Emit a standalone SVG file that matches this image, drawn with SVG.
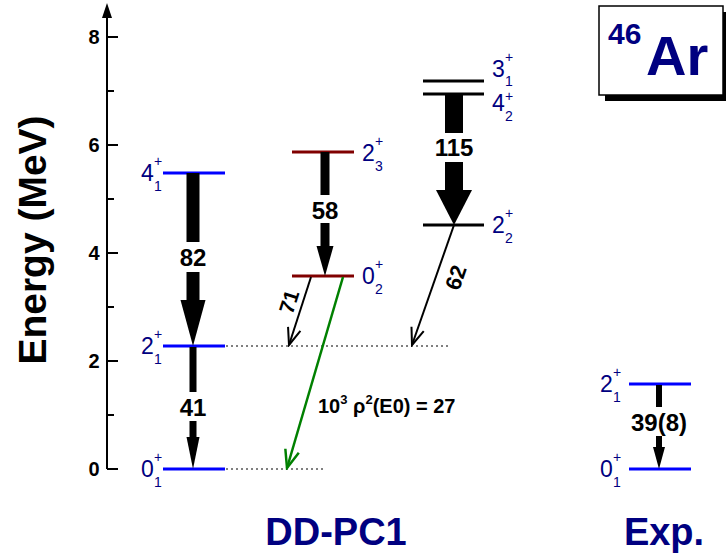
<svg xmlns="http://www.w3.org/2000/svg" width="726" height="554" viewBox="0 0 726 554">
<style>
.lvl{stroke-width:3;fill:none}
.blue{stroke:#0000ff}
.red{stroke:#800000}
.blk{stroke:#000}
.dot{stroke:#000;stroke-width:1;stroke-dasharray:2 3;fill:none}
.lab{font-family:"Liberation Sans",Arial,sans-serif;fill:#000080;font-size:23px}
.ss{font-size:14px}
.bl{font-family:"Liberation Sans",Arial,sans-serif;font-weight:bold;fill:#000;font-size:24px;text-anchor:middle}
.tick{font-family:"Liberation Sans",Arial,sans-serif;font-weight:bold;fill:#000;font-size:20px;text-anchor:middle}
.big{font-family:"Liberation Sans",Arial,sans-serif;font-weight:bold;fill:#000080}
.ax{stroke:#000;stroke-width:2;fill:none}
.thin{stroke:#000;stroke-width:2;fill:none}
</style>
<defs>
<marker id="vb" markerUnits="userSpaceOnUse" viewBox="-20 -9 22 18" markerWidth="22" markerHeight="18" refX="0" refY="0" orient="auto">
<path d="M-17,-6.5 L0,0 L-17,6.5" fill="none" stroke="#000" stroke-width="2"/>
</marker>
<marker id="vg" markerUnits="userSpaceOnUse" viewBox="-20 -9 22 18" markerWidth="22" markerHeight="18" refX="0" refY="0" orient="auto">
<path d="M-18,-7 L0,0 L-18,7" fill="none" stroke="#008000" stroke-width="2.5"/>
</marker>
</defs>

<g id="axis">
<line class="ax" x1="107" y1="469" x2="107" y2="14"/>
<polygon points="107,3 102,18 112,18" fill="#000"/>
<path class="ax" d="M107,469H118 M107,361H118 M107,253H118 M107,145H118 M107,37H118 M107,415H114 M107,307H114 M107,199H114 M107,91H114"/>
<text class="tick" x="94" y="476">0</text>
<text class="tick" x="94" y="368">2</text>
<text class="tick" x="94" y="260">4</text>
<text class="tick" x="94" y="152">6</text>
<text class="tick" x="94" y="44">8</text>
<text class="big" style="fill:#000;font-size:39px" text-anchor="middle" transform="translate(46,240) rotate(-90)">Energy (MeV)</text>
</g>

<g id="dotted">
<line class="dot" x1="226" y1="346" x2="448" y2="346"/>
<line class="dot" x1="226" y1="469" x2="326" y2="469"/>
</g>

<g id="lvl-4-1"><line class="lvl blue" x1="163" y1="173" x2="225" y2="173"/>
<text class="lab" x="141" y="181">4</text><text class="lab ss" x="154" y="166">+</text><text class="lab ss" x="154" y="191">1</text></g>
<g id="lvl-2-1"><line class="lvl blue" x1="163" y1="346" x2="225" y2="346"/>
<text class="lab" x="141" y="354">2</text><text class="lab ss" x="154" y="339">+</text><text class="lab ss" x="154" y="364">1</text></g>
<g id="lvl-0-1"><line class="lvl blue" x1="163" y1="469" x2="225" y2="469"/>
<text class="lab" x="141" y="477">0</text><text class="lab ss" x="154" y="462">+</text><text class="lab ss" x="154" y="487">1</text></g>

<g id="lvl-2-3"><line class="lvl red" x1="292" y1="152" x2="354" y2="152"/>
<text class="lab" x="362" y="161">2</text><text class="lab ss" x="375" y="146">+</text><text class="lab ss" x="375" y="171">3</text></g>
<g id="lvl-0-2"><line class="lvl red" x1="292" y1="276" x2="354" y2="276"/>
<text class="lab" x="362" y="284">0</text><text class="lab ss" x="375" y="269">+</text><text class="lab ss" x="375" y="294">2</text></g>

<g id="lvl-3-1"><line class="lvl blk" x1="423" y1="81" x2="484" y2="81"/>
<text class="lab" x="492" y="77">3</text><text class="lab ss" x="505" y="62">+</text><text class="lab ss" x="505" y="86">1</text></g>
<g id="lvl-4-2"><line class="lvl blk" x1="423" y1="94" x2="484" y2="94"/>
<text class="lab" x="492" y="111">4</text><text class="lab ss" x="505" y="101">+</text><text class="lab ss" x="505" y="121">2</text></g>
<g id="lvl-2-2"><line class="lvl blk" x1="423" y1="225" x2="484" y2="225"/>
<text class="lab" x="492" y="233">2</text><text class="lab ss" x="505" y="218">+</text><text class="lab ss" x="505" y="243">2</text></g>

<g id="exp-2-1"><line class="lvl blue" x1="629" y1="384" x2="691" y2="384"/>
<text class="lab" x="600" y="392">2</text><text class="lab ss" x="613" y="377">+</text><text class="lab ss" x="613" y="402">1</text></g>
<g id="exp-0-1"><line class="lvl blue" x1="629" y1="469" x2="691" y2="469"/>
<text class="lab" x="600" y="477">0</text><text class="lab ss" x="613" y="462">+</text><text class="lab ss" x="613" y="487">1</text></g>

<g id="connectors">
<g id="t82">
<rect x="186.5" y="173" width="13" height="69"/><rect x="186.5" y="272" width="13" height="29"/>
<polygon points="180.5,300 205.5,300 193,346"/>
<text class="bl" x="193" y="266">82</text></g>
<g id="t41">
<rect x="189.5" y="347" width="7" height="45"/><rect x="189.5" y="421" width="7" height="17"/>
<polygon points="186.5,437 199.5,437 193,469"/>
<text class="bl" x="193" y="416">41</text></g>
<g id="t58">
<rect x="320.5" y="152" width="9" height="43"/><rect x="320.5" y="223" width="9" height="24"/>
<polygon points="316.5,246 333.5,246 325,276"/>
<text class="bl" x="325" y="219">58</text></g>
<g id="t115">
<rect x="445" y="95" width="18" height="38"/><rect x="445" y="162" width="18" height="29"/>
<polygon points="436,190 472,190 454,225"/>
<text class="bl" x="454" y="156">115</text></g>
<g id="t39">
<rect x="656" y="385" width="6" height="22"/><rect x="656" y="436" width="6" height="12"/>
<polygon points="653,447 665,447 659,469"/>
<text class="bl" x="659" y="431">39(8)</text></g>
<g id="t71">
<line class="thin" x1="311" y1="277" x2="289" y2="345" marker-end="url(#vb)"/>
<text class="bl" style="font-size:21px" transform="translate(296,304) rotate(-72)">71</text></g>
<g id="t62">
<line class="thin" x1="454" y1="225" x2="412" y2="345" marker-end="url(#vb)"/>
<text class="bl" style="font-size:22px" transform="translate(463,280) rotate(-71)">62</text></g>
<g id="tE0">
<line x1="343" y1="277" x2="287" y2="468" stroke="#008000" stroke-width="2.5" marker-end="url(#vg)"/>
<text class="bl" style="font-size:20px;text-anchor:start" x="318" y="413">10<tspan dy="-9" style="font-size:13px">3</tspan><tspan dy="9"> ρ</tspan><tspan dy="-9" style="font-size:13px">2</tspan><tspan dy="9">(E0) = 27</tspan></text></g>
</g>

<g id="titles">
<text class="big" style="font-size:38px" x="336" y="545" text-anchor="middle">DD-PC1</text>
<text class="big" style="font-size:38px" x="664" y="545" text-anchor="middle">Exp.</text>
</g>

<g id="nucleus">
<rect x="605" y="12" width="124" height="89" fill="#000"/>
<rect x="599" y="6" width="124" height="89" fill="#fff" stroke="#000" stroke-width="1.5"/>
<text class="big" style="font-size:30px" x="608" y="44">46</text>
<text class="big" style="font-size:56px" x="646" y="75">Ar</text>
</g>
</svg>
